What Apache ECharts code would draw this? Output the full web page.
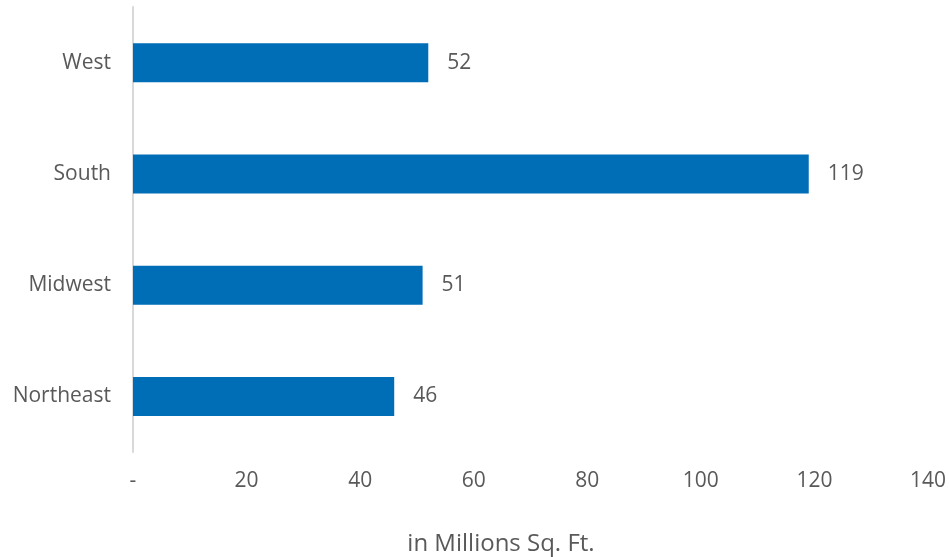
<!DOCTYPE html>
<html>
<head>
<meta charset="utf-8">
<script src="https://cdn.jsdelivr.net/npm/echarts@6/dist/echarts.min.js"></script>
<style>
  html, body { margin: 0; padding: 0; background: #fff; }
  #chart { width: 949px; height: 557px; }
</style>
</head>
<body>
<div id="chart"></div>
<script>
// Regions listed bottom to top on the category axis
const regions = ['Northeast', 'Midwest', 'South', 'West'];
const spaceMillions = [46, 51, 119, 52];
const xTicks = [0, 20, 40, 60, 80, 100, 120, 140];

const textColor = '#595959';
const fontFamily = '"Open Sans", "Noto Sans", sans-serif';

const chart = echarts.init(document.getElementById('chart'));
chart.setOption({
  animation: false,
  title: {
    text: 'in Millions Sq. Ft.',
    left: 496,
    top: 527,
    textAlign: 'center',
    textStyle: { color: textColor, fontFamily, fontSize: 24, fontWeight: 'normal' }
  },
  grid: { left: 133, right: 20, top: 7, bottom: 105, containLabel: false },
  xAxis: {
    type: 'value',
    min: xTicks[0],
    max: xTicks[xTicks.length - 1],
    interval: 20,
    axisLine: { show: false },
    axisTick: { show: false },
    splitLine: { show: false },
    axisLabel: {
      color: textColor, fontFamily, fontSize: 21, margin: 19,
      formatter: v => (v === 0 ? '-' : String(v))
    }
  },
  yAxis: {
    type: 'category',
    data: regions,
    axisLine: { show: true, lineStyle: { color: '#D9D9D9', width: 2 } },
    axisTick: { show: false },
    axisLabel: { color: textColor, fontFamily, fontSize: 21, margin: 22 }
  },
  series: [{
    type: 'bar',
    data: spaceMillions,
    barWidth: 39,
    itemStyle: { color: '#006DB7' },
    label: {
      show: true,
      position: 'right',
      distance: 19,
      color: textColor,
      fontFamily,
      fontSize: 21
    }
  }]
});
</script>
</body>
</html>
